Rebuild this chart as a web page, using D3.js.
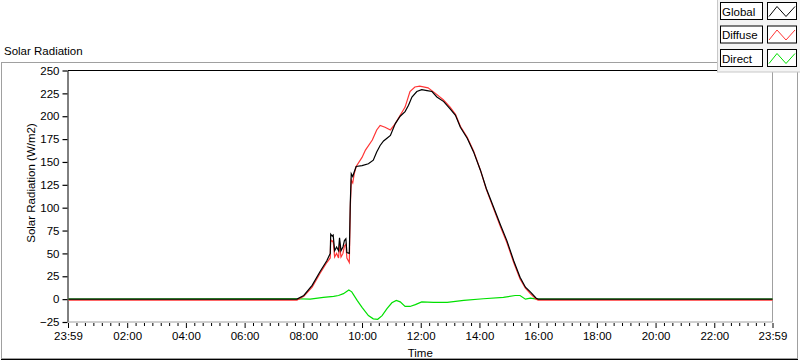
<!DOCTYPE html>
<html>
<head>
<meta charset="utf-8">
<script src="https://cdn.jsdelivr.net/npm/d3@7"></script>
<style>
  body { margin: 0; background: #fff; }
  svg { display: block; font-family: "Liberation Sans", Arial, sans-serif; }
  .axis text { font-size: 11.5px; fill: #000; }
  .axis .domain { display: none; }
  .axis line { stroke: #000; }
</style>
</head>
<body>
<svg id="chart" width="800" height="361"></svg>
<script>
// values (time "HH:MM", W/m2)
const globalTimes = ["00:00","07:47","08:01","08:18","08:34","08:48","08:55","08:56","08:59","09:01","09:04","09:08","09:12","09:14","09:17","09:21","09:24","09:27","09:29","09:34","09:36","09:38","09:41","09:44","09:48","10:00","10:13","10:23","10:30","10:37","10:44","10:51","10:58","11:08","11:18","11:28","11:35","11:42","11:52","12:02","12:13","12:23","12:33","12:47","13:00","13:11","13:21","13:35","13:48","14:02","14:14","14:43","14:56","15:10","15:23","15:34","15:44","15:56","16:00","23:59"];
const globalValues = [0,0,4,15,30,42,50,71,69,70,53,57,53,67,53,57,64,66,51,50,105,137,134,139,145,146,148,152,161,168,173,176,179,192,200,205,212,221,227,229,228,227,221,216,208,201,188,176,161,141,121,81,64,42,24,13,8,1,0,0];

const diffuseTimes = ["00:00","07:47","08:01","08:18","08:34","08:48","08:55","08:56","08:59","09:01","09:04","09:08","09:12","09:14","09:17","09:21","09:24","09:27","09:29","09:34","09:36","09:38","09:41","09:44","09:48","10:00","10:07","10:21","10:30","10:37","10:47","10:58","11:08","11:18","11:28","11:38","11:48","11:58","12:15","12:30","12:46","13:00","13:11","13:21","13:35","13:48","14:02","14:14","14:43","14:56","15:10","15:23","15:34","15:44","15:56","16:00","23:59"];
const diffuseValues = [-1,-1,3,13,28,40,45,65,63,64,46,50,45,60,46,50,58,60,45,40,100,130,127,137,145,155,163,174,185,190,188,185,192,201,210,227,232,233,231,225,218,210,202,189,177,162,141,120,79,62,40,22,12,6,0,-1,-1];

const directTimes = ["00:00","07:47","08:14","08:41","09:02","09:12","09:22","09:33","09:39","09:50","10:00","10:13","10:23","10:32","10:41","10:51","11:01","11:10","11:18","11:28","11:38","11:49","12:02","12:26","12:54","13:28","14:08","14:49","15:13","15:23","15:34","15:44","15:58","23:59"];
const directValues = [0,0.4,0,2,3,4,6,10,8,-1.4,-9,-18,-21.5,-22,-18,-10.5,-4,-1.4,-3,-8,-8,-6,-3,-3.6,-3.6,-1.4,0.4,2,4,4,0,1,0,0];

const yTicks = [-25,0,25,50,75,100,125,150,175,200,225,250];
const xTickLabels = ["23:59","02:00","04:00","06:00","08:00","10:00","12:00","14:00","16:00","18:00","20:00","22:00","23:59"];

const seriesNames = ["Global","Diffuse","Direct"];
const seriesColors = ["#000000","#ff3535","#00e000"];

const svg = d3.select("#chart");
const plotL = 68, plotR = 772.5, plotT = 70.5, plotB = 322;

const toMin = s => { const [h, m] = s.split(":").map(Number); return h * 60 + m; };
// first tick is 23:59 of the previous day
const xTickMinutes = xTickLabels.map((s, i) => i === 0 ? toMin(s) - 1440 : toMin(s));

const x = d3.scaleLinear().domain([xTickMinutes[0], xTickMinutes[xTickMinutes.length - 1]]).range([plotL, plotR]);
const y = d3.scaleLinear().domain([-25, 250]).range([plotB, plotT]);

// outer frame
svg.append("rect")
  .attr("x", 1.5).attr("y", 62.5).attr("width", 796).attr("height", 296)
  .attr("fill", "none").attr("stroke", "#a0a0a0");
svg.append("line")
  .attr("x1", 1).attr("x2", 798).attr("y1", 359.5).attr("y2", 359.5)
  .attr("stroke", "#000");

svg.append("text")
  .attr("x", 4).attr("y", 55)
  .attr("font-size", "11.5px")
  .text("Solar Radiation");

// plot area borders
svg.append("line").attr("x1", plotL).attr("x2", plotR).attr("y1", plotT).attr("y2", plotT).attr("stroke", "#000");
svg.append("line").attr("x1", plotL).attr("x2", plotL).attr("y1", plotT).attr("y2", plotB).attr("stroke", "#000");
svg.append("line").attr("x1", plotR).attr("x2", plotR).attr("y1", plotT).attr("y2", plotB).attr("stroke", "#a0a0a0");
svg.append("line").attr("x1", plotL).attr("x2", plotR).attr("y1", plotB).attr("y2", plotB).attr("stroke", "#a0a0a0");

// axes
svg.append("g")
  .attr("class", "axis")
  .attr("transform", `translate(${plotL - 0.5},0)`)
  .call(d3.axisLeft(y).tickValues(yTicks).tickSize(5).tickPadding(3))
  .call(g => g.selectAll("line").attr("stroke-width", 1.2));

const minorTicks = [];
for (let i = 0; i < xTickMinutes.length - 1; i++) {
  const a = xTickMinutes[i], b = xTickMinutes[i + 1];
  for (let k = 1; k < 7; k++) minorTicks.push(a + (b - a) * k / 7);
}

svg.append("g")
  .attr("class", "axis")
  .attr("transform", `translate(0,${plotB + 1})`)
  .call(d3.axisBottom(x).tickValues(minorTicks).tickSize(3).tickFormat(""));

svg.append("g")
  .attr("class", "axis")
  .attr("transform", `translate(0,${plotB + 1})`)
  .call(d3.axisBottom(x).tickValues(xTickMinutes).tickSize(5).tickPadding(4)
    .tickFormat((d, i) => xTickLabels[i]));

svg.append("text")
  .attr("x", (plotL + plotR) / 2).attr("y", 357)
  .attr("text-anchor", "middle")
  .attr("font-size", "11.5px")
  .text("Time");

svg.append("text")
  .attr("transform", "rotate(-90)")
  .attr("x", -183).attr("y", 35)
  .attr("text-anchor", "middle")
  .attr("font-size", "11.5px")
  .text("Solar Radiation (W/m2)");

// lines
const line = d3.line().x(d => x(d[0])).y(d => y(d[1]));
const series = [
  { times: directTimes, values: directValues, color: seriesColors[2] },
  { times: diffuseTimes, values: diffuseValues, color: seriesColors[1] },
  { times: globalTimes, values: globalValues, color: seriesColors[0] }
];
series.forEach(s => {
  svg.append("path")
    .datum(s.times.map((t, i) => [toMin(t), s.values[i]]))
    .attr("fill", "none")
    .attr("stroke", s.color)
    .attr("stroke-width", 1.2)
    .attr("d", line);
});

// legend
const legend = svg.append("g");
legend.append("rect")
  .attr("x", 717.5).attr("y", -1).attr("width", 84).attr("height", 73)
  .attr("fill", "#f4f4f4").attr("stroke", "#c8c8c8");

seriesNames.forEach((name, i) => {
  const ry = 2.5 + i * 23.5;
  legend.append("rect")
    .attr("x", 720.5).attr("y", ry).attr("width", 42).attr("height", 17)
    .attr("fill", "#fff").attr("stroke", "#000");
  legend.append("text")
    .attr("x", 722).attr("y", ry + 13)
    .attr("font-size", "11.5px")
    .text(name);
  legend.append("rect")
    .attr("x", 767.5).attr("y", ry).attr("width", 29).attr("height", 17)
    .attr("fill", "#fff").attr("stroke", "#000");
  legend.append("polyline")
    .attr("points", [[769, ry + 14], [777, ry + 4], [786, ry + 14], [795, ry + 4]].join(" "))
    .attr("fill", "none")
    .attr("stroke", seriesColors[i]);
});
</script>
</body>
</html>
